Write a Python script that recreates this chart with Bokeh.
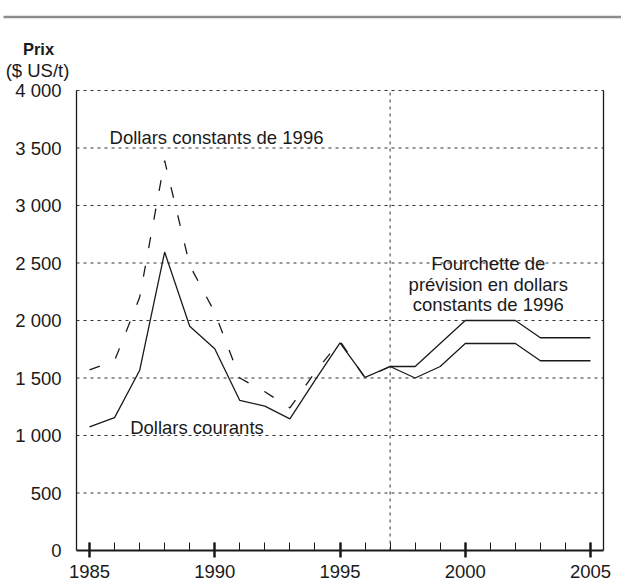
from bokeh.plotting import figure
from bokeh.models import Range1d, FixedTicker, Label
from bokeh.embed import file_html
from bokeh.resources import INLINE

# ---- data ----
years_hist = [1985, 1986, 1987, 1988, 1989, 1990, 1991, 1992, 1993, 1994, 1995, 1996, 1997]
dollars_courants = [1075, 1155, 1565, 2595, 1950, 1755, 1305, 1255, 1145, 1480, 1805, 1505, 1600]
dollars_constants = [1570, 1650, 2200, 3390, 2480, 2070, 1500, 1380, 1240, 1550, 1820, 1500, 1600]

years_prev = [1997, 1998, 1999, 2000, 2001, 2002, 2003, 2004, 2005]
prevision_haute = [1600, 1600, 1800, 2000, 2000, 2000, 1850, 1850, 1850]
prevision_basse = [1600, 1500, 1600, 1800, 1800, 1800, 1650, 1650, 1650]

x_major = [1985, 1990, 1995, 2000, 2005]
x_minor = list(range(1985, 2006))
y_ticks = [0, 500, 1000, 1500, 2000, 2500, 3000, 3500, 4000]
y_labels = ["0", "500", "1 000", "1 500", "2 000", "2 500", "3 000", "3 500", "4 000"]
separation_year = 1997

FONT = "Liberation Sans"
INK = "#1a1a1a"
GRID = "#333333"

# plotting area (data extent) and page geometry
x_left, x_right = 1984.481, 2005.519
y_bottom, y_top = 0, 4000
W, H = 621, 587
area_left, area_right, area_top, area_bottom = 76, 603, 90, 550
px_x = (area_right - area_left) / (x_right - x_left)
px_y = (area_bottom - area_top) / (y_top - y_bottom)

def xd(px):
    return x_left + (px - area_left) / px_x

def yd(py):
    return (area_bottom - py) / px_y

p = figure(width=W, height=H, output_backend="svg", toolbar_location=None,
           x_range=Range1d(xd(0), xd(W)), y_range=Range1d(yd(H), yd(0)),
           min_border_left=0, min_border_right=0, min_border_top=0,
           min_border_bottom=0)
p.outline_line_color = None
p.grid.visible = False

# y axis drawn at the left edge of the plotting area
ya = p.yaxis[0]
ya.fixed_location = x_left
ya.bounds = (y_bottom, y_top)
ya.ticker = FixedTicker(ticks=y_ticks)
ya.major_label_overrides = {t: l for t, l in zip(y_ticks, y_labels)}
ya.major_tick_in = 0
ya.major_tick_out = 0
ya.minor_tick_in = 0
ya.minor_tick_out = 0
ya.axis_line_color = INK
ya.axis_line_width = 1.3
ya.major_label_text_font = FONT
ya.major_label_text_font_size = "18.5px"
ya.major_label_text_color = INK
ya.major_label_standoff = 15

# x axis drawn at the bottom edge of the plotting area
xa = p.xaxis[0]
xa.fixed_location = y_bottom
xa.bounds = (x_left, x_right)
xa.ticker = FixedTicker(ticks=x_major, minor_ticks=x_minor)
xa.major_tick_in = 8
xa.major_tick_out = 7
xa.major_tick_line_width = 2.5
xa.major_tick_line_color = INK
xa.minor_tick_in = 8
xa.minor_tick_out = 0
xa.minor_tick_line_width = 1
xa.minor_tick_line_color = INK
xa.axis_line_width = 2
xa.axis_line_color = INK
xa.major_label_text_font = FONT
xa.major_label_text_font_size = "18.5px"
xa.major_label_text_color = INK
xa.major_label_standoff = 7

# dotted horizontal grid (incl. top border at 4 000)
grid_y = y_ticks[1:]
p.segment(x0=[x_left] * len(grid_y), x1=[x_right] * len(grid_y), y0=grid_y, y1=grid_y,
          line_color=GRID, line_width=1, line_dash="3 4")
# dotted separation line between history and forecast
p.segment(x0=[separation_year], x1=[separation_year], y0=[y_bottom], y1=[y_top],
          line_color=GRID, line_width=1, line_dash="3 4")
# solid right border
p.segment(x0=[x_right], x1=[x_right], y0=[y_bottom], y1=[y_top],
          line_color=INK, line_width=1.3)
# grey rule at the top of the page
p.line([xd(3), xd(W)], [yd(16.5), yd(16.5)], line_color="#8c8c8c", line_width=2.5)

# series
p.line(years_hist, dollars_constants, line_color=INK, line_width=1.3, line_dash="11 18")
p.line(years_hist, dollars_courants, line_color=INK, line_width=1.3)
p.line(years_prev, prevision_haute, line_color=INK, line_width=1.3)
p.line(years_prev, prevision_basse, line_color=INK, line_width=1.3)

def lab(x, y, t, size="18.5px", style="normal"):
    p.add_layout(Label(x=x, y=y, text=t, text_font=FONT, text_font_size=size,
                       text_font_style=style, text_color=INK,
                       text_align="center", text_baseline="middle"))

lab(1990.07, 3591, "Dollars constants de 1996")
lab(1989.29, 1070, "Dollars courants")
lab(2000.92, 2500, "Fourchette de")
lab(2000.92, 2317, "prévision en dollars")
lab(2000.92, 2135, "constants de 1996")
lab(xd(38), yd(48), "Prix", size="16.5px", style="bold")
lab(xd(37), yd(69.5), "($ US/t)")

open("out.html", "w").write(file_html(p, INLINE))
